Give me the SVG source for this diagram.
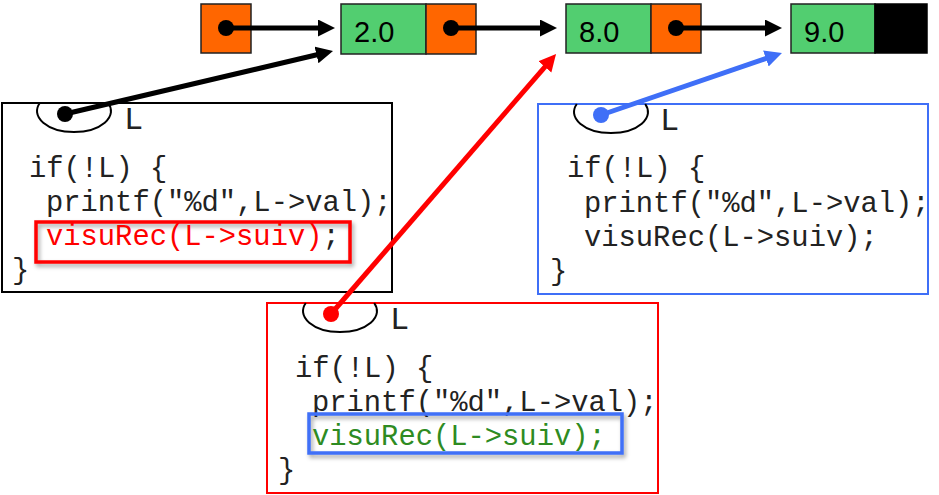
<svg xmlns="http://www.w3.org/2000/svg" width="939" height="495" viewBox="0 0 939 495">
<style>
.cell{stroke:#222;stroke-width:1.5}
.green{fill:#52ce70}
.orange{fill:#ff6600}
.val{font-family:"Liberation Sans",Arial,sans-serif;font-size:29px;fill:#000}
.code{font-family:"Liberation Mono","Courier New",monospace;font-size:28.8px;fill:#222}
.lbl{font-family:"Liberation Mono","Courier New",monospace;font-size:32px;fill:#222}
.frame{fill:#fff;stroke-width:2}
.hole{fill:none;stroke:#000;stroke-width:2}
.conn{stroke-width:5;fill:none}
</style>
<defs>
<marker id="hk" markerUnits="userSpaceOnUse" markerWidth="18" markerHeight="18" refX="7" refY="8.5" orient="auto"><path d="M0,0 L17,8.5 L0,17 z" fill="#000"/></marker>
<marker id="hr" markerUnits="userSpaceOnUse" markerWidth="18" markerHeight="18" refX="7" refY="8.5" orient="auto"><path d="M0,0 L17,8.5 L0,17 z" fill="#ff0000"/></marker>
<marker id="hb" markerUnits="userSpaceOnUse" markerWidth="18" markerHeight="18" refX="7" refY="8.5" orient="auto"><path d="M0,0 L17,8.5 L0,17 z" fill="#3f6ff7"/></marker>
<filter id="sh" x="-10%" y="-30%" width="120%" height="160%"><feDropShadow dx="2" dy="3" stdDeviation="2" flood-color="#000" flood-opacity="0.35"/></filter>
</defs>

<g id="head">
<rect class="cell orange" x="201" y="4" width="50" height="49"/>
</g>
<g id="node1">
<rect class="cell green" x="341" y="4" width="85" height="50"/>
<rect class="cell orange" x="426" y="4" width="50" height="50"/>
<text class="val" x="354" y="42">2.0</text>
</g>
<g id="node2">
<rect class="cell green" x="566" y="4" width="85" height="49"/>
<rect class="cell orange" x="651" y="4" width="50" height="49"/>
<text class="val" x="579" y="42">8.0</text>
</g>
<g id="node3">
<rect class="cell green" x="791" y="4" width="84" height="49"/>
<rect x="875" y="4" width="52" height="49" fill="#000" stroke="#000" stroke-width="1.5"/>
<text class="val" x="804" y="42">9.0</text>
</g>

<g id="frame1">
<rect class="frame" x="2" y="103" width="390" height="189" stroke="#000"/>
<path class="hole" d="M39.8,103 A37,21 0 1,0 108.2,103"/>
<text class="lbl" x="124" y="129">L</text>
<text class="code" x="29" y="177">if(!L) {</text>
<text class="code" x="46" y="211">printf("%d",L-&gt;val);</text>
<rect x="36" y="222" width="314" height="40" fill="none" stroke="#ff0000" stroke-width="3.5" filter="url(#sh)"/>
<text class="code" x="46" y="245"><tspan fill="#ff0000">visuRec(L-&gt;suiv)</tspan>;</text>
<text class="code" x="12" y="279">}</text>
</g>

<g id="frame3">
<rect class="frame" x="538" y="104" width="390" height="190" stroke="#3f6ff7"/>
<path class="hole" d="M576.8,104 A37,21 0 1,0 645.2,104"/>
<text class="lbl" x="660" y="130">L</text>
<text class="code" x="567" y="177">if(!L) {</text>
<text class="code" x="584" y="212">printf("%d",L-&gt;val);</text>
<text class="code" x="584" y="246">visuRec(L-&gt;suiv);</text>
<text class="code" x="550" y="280">}</text>
</g>

<g id="frame2">
<rect class="frame" x="267" y="303" width="391" height="190" stroke="#ff0000"/>
<path class="hole" d="M305.8,303 A37,21 0 1,0 374.2,303"/>
<text class="lbl" x="390" y="329">L</text>
<text class="code" x="295" y="377">if(!L) {</text>
<text class="code" x="312" y="411">printf("%d",L-&gt;val);</text>
<rect x="309" y="414" width="313" height="39" fill="none" stroke="#3f6ff7" stroke-width="3.5" filter="url(#sh)"/>
<text class="code" x="312" y="445" style="fill:#2e8b22">visuRec(L-&gt;suiv);</text>
<text class="code" x="278" y="479">}</text>
</g>

<g id="connectors">
<line class="conn" x1="226" y1="28" x2="325" y2="28" stroke="#000" marker-end="url(#hk)"/>
<line class="conn" x1="451" y1="28" x2="547" y2="28" stroke="#000" marker-end="url(#hk)"/>
<line class="conn" x1="676" y1="28" x2="772" y2="28" stroke="#000" marker-end="url(#hk)"/>
<line class="conn" x1="65" y1="114" x2="323.3" y2="53.3" stroke="#000" marker-end="url(#hk)"/>
<line class="conn" x1="331" y1="314" x2="549.5" y2="61.6" stroke="#ff0000" marker-end="url(#hr)"/>
<line class="conn" x1="601" y1="115" x2="772.5" y2="56.2" stroke="#3f6ff7" marker-end="url(#hb)"/>
<circle cx="226" cy="28" r="8" fill="#000"/>
<circle cx="451" cy="28" r="8" fill="#000"/>
<circle cx="676" cy="28" r="8" fill="#000"/>
<circle cx="65" cy="114" r="8" fill="#000"/>
<circle cx="331" cy="314" r="8" fill="#ff0000"/>
<circle cx="601" cy="115" r="8" fill="#3f6ff7"/>
</g>
</svg>
